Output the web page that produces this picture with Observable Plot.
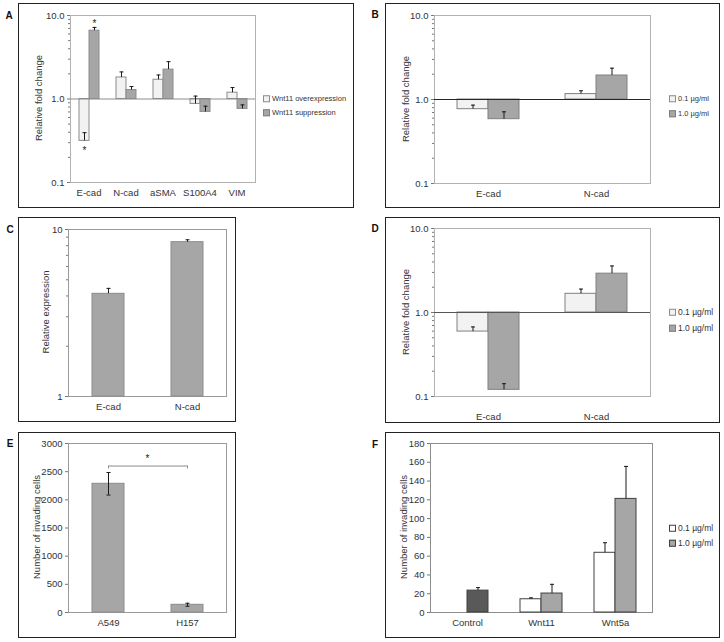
<!DOCTYPE html>
<html><head><meta charset="utf-8">
<script src="https://cdn.jsdelivr.net/npm/d3@7"></script>
<script src="https://cdn.jsdelivr.net/npm/@observablehq/plot@0.6"></script>
<style>
body{margin:0;background:#fff;font-family:"Liberation Sans",Arial,sans-serif;}
#fig{position:relative;width:724px;height:642px;overflow:hidden;background:#fff;}
.box{position:absolute;border:1.6px solid #222;box-sizing:border-box;pointer-events:none;}
.letter{position:absolute;font-weight:bold;font-size:10px;color:#111;transform:translate(-50%,-50%);}
.ylab{position:absolute;font-size:9.5px;color:#333;white-space:nowrap;transform:translate(-50%,-50%) rotate(-90deg);}
.leg{position:absolute;font-size:8.5px;color:#333;white-space:nowrap;display:flex;align-items:center;transform:translateY(-50%);line-height:1;}
.leg i{display:inline-block;width:5px;height:5px;border:1px solid #777;margin-right:2px;box-sizing:content-box;}
</style></head><body><div id="fig"></div><script>
// ---------- Panel A ----------
const aCategories = ["E-cad", "N-cad", "aSMA", "S100A4", "VIM"];
const aSeries = ["Wnt11 overexpression", "Wnt11 suppression"];
const aOver = [0.315, 1.81, 1.70, 0.873, 1.19];
const aOverErr = [0.08, 0.30, 0.24, 0.21, 0.18];
const aSupp = [6.58, 1.28, 2.25, 0.70, 0.76];
const aSuppErr = [0.62, 0.13, 0.55, 0.12, 0.09];
const aStarred = [["E-cad", "Wnt11 overexpression"], ["E-cad", "Wnt11 suppression"]];
// ---------- Panel B ----------
const bCategories = ["E-cad", "N-cad"];
const doseSeries = ["0.1 µg/ml", "1.0 µg/ml"];
const bLow = [0.767, 1.16];
const bLowErr = [0.09, 0.11];
const bHigh = [0.583, 1.93];
const bHighErr = [0.13, 0.43];
// ---------- Panel C ----------
const cCategories = ["E-cad", "N-cad"];
const cValues = [4.12, 8.40];
const cErr = [0.32, 0.28];
// ---------- Panel D ----------
const dCategories = ["E-cad", "N-cad"];
const dLow = [0.593, 1.67];
const dLowErr = [0.08, 0.23];
const dHigh = [0.120, 2.90];
const dHighErr = [0.022, 0.68];
// ---------- Panel E ----------
const eCategories = ["A549", "H157"];
const eValues = [2285, 137];
const eErr = [200, 27];
const eBracket = {from: "A549", to: "H157", y: 2600, label: "*"};
// ---------- Panel F ----------
const fCategories = ["Control", "Wnt11", "Wnt5a"];
const fControlGroup = "Control";
const fControl = [23.3, null, null];
const fControlErr = [3.2, null, null];
const fLow = [null, 14.1, 63.6];
const fLowErr = [null, 1.5, 10.7];
const fHigh = [null, 20.2, 121];
const fHighErr = [null, 9.8, 34.6];
// ---------- Ticks ----------
const logMajor = [0.1, 1, 10];
const logMinor = [0.2, 0.3, 0.4, 0.5, 0.6, 0.7, 0.8, 0.9, 2, 3, 4, 5, 6, 7, 8, 9];
const cMajor = [1, 10];
const cMinor = [2, 3, 4, 5, 6, 7, 8, 9];
const eTicks = [0, 500, 1000, 1500, 2000, 2500, 3000];
const fTicks = [0, 20, 40, 60, 80, 100, 120, 140, 160, 180];

// ---------- helpers ----------
const baseStyle = {fontFamily: '"Liberation Sans", Arial, sans-serif', fontSize: "9.5px", color: "#333", background: "transparent", overflow: "visible"};
const capSymbol = {draw(context, size) { const w = Math.sqrt(size / Math.PI); context.moveTo(-w, 0); context.lineTo(w, 0); }};

function toRows(cats, slot, group, values, errs) {
  const out = [];
  cats.forEach((c, i) => { if (values[i] != null) out.push({cat: c, series: slot, group, value: values[i], err: errs[i]}); });
  return out;
}
function errorMarks(rows, faceted, both) {
  const ch = faceted ? {fx: "cat", x: "series"} : {x: "cat"};
  const lo = both ? (d) => d.value - d.err : (d) => d.value;
  const marks = [
    Plot.ruleX(rows, {...ch, y1: lo, y2: (d) => d.value + d.err, stroke: "#1a1a1a", strokeWidth: 1}),
    Plot.dot(rows, {...ch, y: (d) => d.value + d.err, symbol: capSymbol, r: 2, stroke: "#1a1a1a", fill: "none", strokeWidth: 1})
  ];
  if (both) marks.push(Plot.dot(rows, {...ch, y: lo, symbol: capSymbol, r: 2, stroke: "#1a1a1a", fill: "none", strokeWidth: 1}));
  return marks;
}
function grouped(cfg) {
  return Plot.plot({
    width: cfg.width, height: cfg.height,
    marginTop: cfg.m[0], marginRight: cfg.m[1], marginBottom: cfg.m[2], marginLeft: cfg.m[3],
    style: baseStyle,
    fx: {domain: cfg.cats, padding: 0, label: null},
    x: {domain: cfg.slots, paddingInner: 0, paddingOuter: cfg.outer, axis: null},
    y: {type: cfg.yType, domain: cfg.yDomain},
    color: {domain: cfg.colorDomain, range: cfg.colorRange},
    marks: [
      Plot.frame({facet: "super", stroke: cfg.frameStroke}),
      ...(cfg.minor ? [Plot.axisY({ticks: cfg.minor, tickSize: 2, tickFormat: () => "", label: null, stroke: "#777"})] : []),
      Plot.axisY({ticks: cfg.major, tickSize: 3, tickPadding: 3, tickFormat: cfg.fmt, label: null, stroke: "#777"}),
      Plot.axisFx({anchor: "bottom", tickSize: 0, tickPadding: cfg.catPad, label: null}),
      Plot.barY(cfg.rows, {fx: "cat", x: "series", y1: cfg.base, y2: "value", fill: "group", stroke: cfg.barStroke, strokeWidth: 1}),
      ...(cfg.baseStroke ? [Plot.ruleY([cfg.base], {stroke: cfg.baseStroke})] : []),
      ...errorMarks(cfg.rows, true, false),
      ...(cfg.extra || [])
    ]
  });
}
function single(cfg) {
  return Plot.plot({
    width: cfg.width, height: cfg.height,
    marginTop: cfg.m[0], marginRight: cfg.m[1], marginBottom: cfg.m[2], marginLeft: cfg.m[3],
    style: baseStyle,
    x: {domain: cfg.cats, paddingInner: 0.6, paddingOuter: 0.3},
    y: {type: cfg.yType, domain: cfg.yDomain},
    marks: [
      Plot.frame({stroke: cfg.frameStroke}),
      ...(cfg.minor ? [Plot.axisY({ticks: cfg.minor, tickSize: 2, tickFormat: () => "", label: null, stroke: "#777"})] : []),
      Plot.axisY({ticks: cfg.major, tickSize: 3, tickPadding: 3, tickFormat: cfg.fmt, label: null, stroke: "#777"}),
      Plot.axisX({tickSize: 0, tickPadding: cfg.catPad, label: null}),
      Plot.barY(cfg.rows, {x: "cat", y1: cfg.base, y2: "value", fill: "#a6a6a6", stroke: "#8c8c8c", strokeWidth: 1}),
      ...errorMarks(cfg.rows, false, cfg.both),
      ...(cfg.extra || [])
    ]
  });
}

const fig = document.getElementById("fig");
function addPlot(svg, left, top) { svg.style.position = "absolute"; svg.style.left = left + "px"; svg.style.top = top + "px"; fig.appendChild(svg); }
function addDiv(cls, text, x, y) { const d = document.createElement("div"); d.className = cls; d.textContent = text; d.style.left = x + "px"; d.style.top = y + "px"; fig.appendChild(d); return d; }
function addBox(l, t, r, b) { const d = document.createElement("div"); d.className = "box"; Object.assign(d.style, {left: l + "px", top: t + "px", width: (r - l) + "px", height: (b - t) + "px"}); fig.appendChild(d); }
function addLegend(x, y, fill, border, label, size) {
  const d = addDiv("leg", "", x, y);
  d.style.fontSize = size + "px";
  const i = document.createElement("i"); i.style.background = fill; i.style.borderColor = border; d.appendChild(i);
  d.appendChild(document.createTextNode(label));
}

// ---------- Panel A ----------
const aRows = [...toRows(aCategories, aSeries[0], aSeries[0], aOver, aOverErr), ...toRows(aCategories, aSeries[1], aSeries[1], aSupp, aSuppErr)];
const aStarRows = aStarred.map(([c, s]) => aRows.find((r) => r.cat === c && r.series === s));
addPlot(grouped({
  width: 336, height: 205, m: [12, 98, 26, 51],
  cats: aCategories, slots: aSeries, outer: 0.72, yType: "log", yDomain: [0.1, 10],
  major: logMajor, minor: logMinor, fmt: (d) => d.toFixed(1), catPad: 7,
  colorDomain: aSeries, colorRange: ["#f2f2f2", "#a6a6a6"], rows: aRows, base: 1,
  barStroke: "#8c8c8c", baseStroke: "#8c8c8c", frameStroke: "#b3b3b3",
  extra: [
    Plot.text(aStarRows.filter((d) => d.value < 1), {fx: "cat", x: "series", y: "value", text: () => "*", dy: 10, fontSize: 10, fill: "#222"}),
    Plot.text(aStarRows.filter((d) => d.value >= 1), {fx: "cat", x: "series", y: (d) => d.value + d.err, text: () => "*", dy: -4, fontSize: 10, fill: "#222"})
  ]
}), 18, 3);

// ---------- Panel B ----------
const bRows = [...toRows(bCategories, doseSeries[0], doseSeries[0], bLow, bLowErr), ...toRows(bCategories, doseSeries[1], doseSeries[1], bHigh, bHighErr)];
addPlot(grouped({
  width: 335, height: 205, m: [12, 70, 25, 49],
  cats: bCategories, slots: doseSeries, outer: 0.72, yType: "log", yDomain: [0.1, 10],
  major: logMajor, minor: logMinor, fmt: (d) => d.toFixed(1), catPad: 7,
  colorDomain: doseSeries, colorRange: ["#f2f2f2", "#a6a6a6"], rows: bRows, base: 1,
  barStroke: "#808080", baseStroke: "#262626", frameStroke: "#b3b3b3"
}), 385, 3);

// ---------- Panel C ----------
const cRows = toRows(cCategories, null, null, cValues, cErr);
addPlot(single({
  width: 218, height: 205, m: [12, 10, 26, 50],
  cats: cCategories, yType: "log", yDomain: [1, 10], major: cMajor, minor: cMinor, fmt: (d) => String(d),
  catPad: 7, rows: cRows, base: 1, both: false, frameStroke: "#9a9a9a"
}), 18, 217);

// ---------- Panel D ----------
const dRows = [...toRows(dCategories, doseSeries[0], doseSeries[0], dLow, dLowErr), ...toRows(dCategories, doseSeries[1], doseSeries[1], dHigh, dHighErr)];
addPlot(grouped({
  width: 335, height: 205, m: [11, 70, 26, 49],
  cats: dCategories, slots: doseSeries, outer: 0.72, yType: "log", yDomain: [0.1, 10],
  major: logMajor, minor: logMinor, fmt: (d) => d.toFixed(1), catPad: 17,
  colorDomain: doseSeries, colorRange: ["#f2f2f2", "#a6a6a6"], rows: dRows, base: 1,
  barStroke: "#808080", baseStroke: "#555555", frameStroke: "#b3b3b3"
}), 385, 217);

// ---------- Panel E ----------
const eRows = toRows(eCategories, null, null, eValues, eErr);
addPlot(single({
  width: 218, height: 206, m: [11, 10, 26, 50],
  cats: eCategories, yType: "linear", yDomain: [0, 3000], major: eTicks, fmt: (d) => String(d),
  catPad: 7, rows: eRows, base: 0, both: true, frameStroke: "#9a9a9a",
  extra: [
    Plot.link([eBracket], {x1: "from", x2: "to", y1: "y", y2: "y", stroke: "#8c8c8c"}),
    Plot.ruleX([eBracket.from, eBracket.to], {x: (d) => d, y1: eBracket.y, y2: eBracket.y - 50, stroke: "#8c8c8c"}),
    Plot.text([eBracket], {frameAnchor: "middle", y: "y", text: "label", dy: -7, fontSize: 10, fill: "#222"})
  ]
}), 18, 432);

// ---------- Panel F ----------
const fRows = [
  ...toRows(fCategories, doseSeries[1], fControlGroup, fControl, fControlErr),
  ...toRows(fCategories, doseSeries[0], doseSeries[0], fLow, fLowErr),
  ...toRows(fCategories, doseSeries[1], doseSeries[1], fHigh, fHighErr)
];
addPlot(grouped({
  width: 335, height: 206, m: [11, 68, 26, 45],
  cats: fCategories, slots: doseSeries, outer: 0.72, yType: "linear", yDomain: [0, 180],
  major: fTicks, fmt: (d) => String(d), catPad: 7,
  colorDomain: [...doseSeries, fControlGroup], colorRange: ["#ffffff", "#a6a6a6", "#595959"], rows: fRows, base: 0,
  barStroke: "#404040", baseStroke: null, frameStroke: "#8c8c8c"
}), 385, 432);

// ---------- boxes, letters, labels, legends ----------
addBox(18, 3, 354, 208); addBox(385, 3, 720, 208);
addBox(18, 217, 236, 422); addBox(385, 217, 720, 423);
addBox(18, 432, 236, 638); addBox(385, 432, 720, 638);
[["A", 9, 15], ["B", 375, 14], ["C", 10, 229], ["D", 375, 228], ["E", 10, 443], ["F", 375, 444]].forEach(([t, x, y]) => addDiv("letter", t, x, y));
[["Relative fold change", 38, 98], ["Relative fold change", 405, 99], ["Relative expression", 45, 312],
 ["Relative fold change", 405, 312], ["Number of invading cells", 36, 527], ["Number of invading cells", 403, 527]]
  .forEach(([t, x, y]) => addDiv("ylab", t, x, y));
addLegend(263, 99, "#f2f2f2", "#8c8c8c", aSeries[0], 7.5);
addLegend(263, 113, "#a6a6a6", "#808080", aSeries[1], 7.5);
addLegend(669, 99, "#f2f2f2", "#8c8c8c", doseSeries[0], 7.5);
addLegend(669, 114, "#a6a6a6", "#808080", doseSeries[1], 7.5);
addLegend(669, 312, "#f2f2f2", "#8c8c8c", doseSeries[0], 8.5);
addLegend(669, 328, "#a6a6a6", "#808080", doseSeries[1], 8.5);
addLegend(669, 528, "#ffffff", "#404040", doseSeries[0], 8.5);
addLegend(669, 543, "#a6a6a6", "#404040", doseSeries[1], 8.5);
</script></body></html>
